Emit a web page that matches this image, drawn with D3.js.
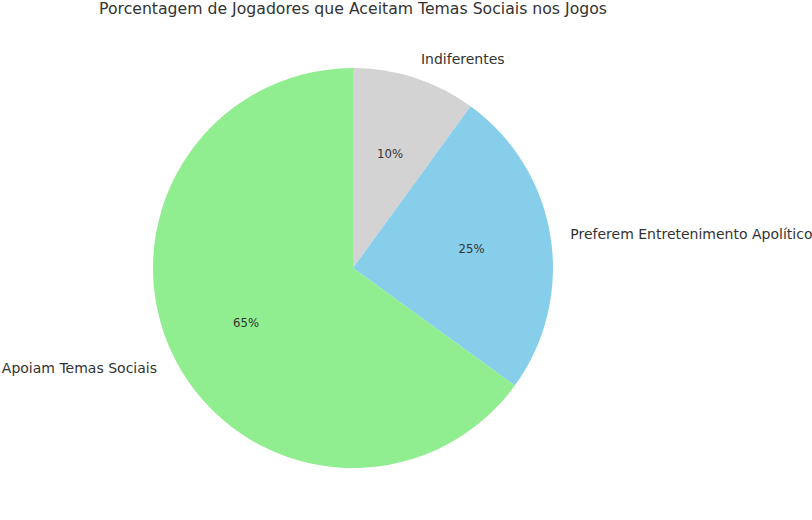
<!DOCTYPE html>
<html>
<head>
<meta charset="utf-8">
<script src="https://cdn.jsdelivr.net/npm/d3@7"></script>
<style>
  body { margin: 0; background: #fff; }
  text { font-family: "DejaVu Sans", sans-serif; fill: #333; }
</style>
</head>
<body>
<div id="chart"></div>
<script>
// clockwise from 12 o'clock
const categories = ['Indiferentes', 'Preferem Entretenimento Apolítico', 'Apoiam Temas Sociais']
const values = [10, 25, 65]
const colors = ['#d3d3d3', '#87ceeb', '#90ee90']

const width = 812, height = 520
const cx = 353, cy = 268, r = 200

const svg = d3.select('#chart').append('svg')
  .attr('width', width)
  .attr('height', height)

svg.append('text')
  .attr('x', cx).attr('y', 14)
  .attr('text-anchor', 'middle')
  .style('font-size', '15.7px')
  .text('Porcentagem de Jogadores que Aceitam Temas Sociais nos Jogos')

const pie = d3.pie().sort(null).value(d => d)
const arcs = pie(values)
const arc = d3.arc().innerRadius(0).outerRadius(r)

const g = svg.append('g').attr('transform', `translate(${cx},${cy})`)

g.selectAll('path').data(arcs).join('path')
  .attr('d', arc)
  .attr('fill', (d, i) => colors[i])

const mid = d => (d.startAngle + d.endAngle) / 2

g.selectAll('.lbl').data(arcs).join('text')
  .attr('class', 'lbl')
  .attr('x', d => 1.1 * r * Math.sin(mid(d)))
  .attr('y', d => -1.1 * r * Math.cos(mid(d)))
  .attr('dy', '0.35em')
  .attr('text-anchor', d => Math.sin(mid(d)) >= 0 ? 'start' : 'end')
  .style('font-size', '14px')
  .text((d, i) => categories[i])

g.selectAll('.pct').data(arcs).join('text')
  .attr('class', 'pct')
  .attr('x', d => 0.6 * r * Math.sin(mid(d)))
  .attr('y', d => -0.6 * r * Math.cos(mid(d)))
  .attr('dy', '0.35em')
  .attr('text-anchor', 'middle')
  .style('font-size', '11.7px')
  .text(d => d.data + '%')
</script>
</body>
</html>
